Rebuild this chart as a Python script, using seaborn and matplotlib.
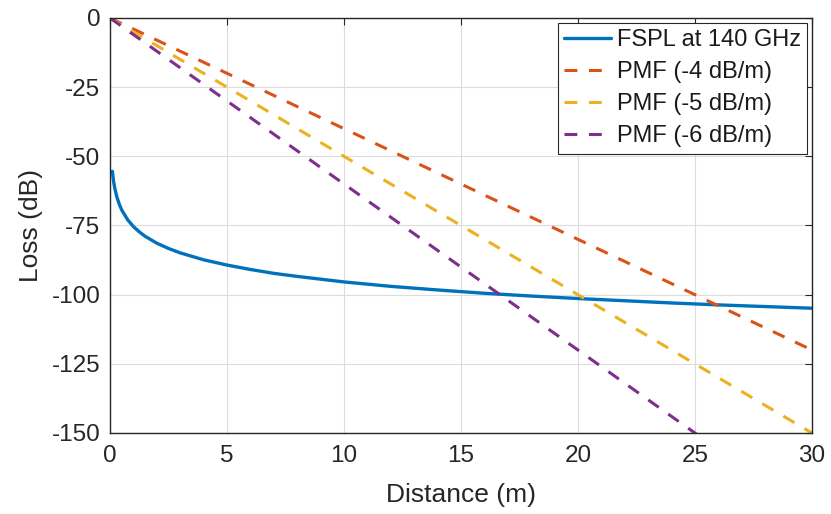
import matplotlib
matplotlib.use("Agg")
import matplotlib.pyplot as plt
import seaborn as sns

# FSPL at 140 GHz
fspl_distance = [0.1, 0.15, 0.2, 0.3, 0.4, 0.5, 0.75, 1, 1.25, 1.5, 2, 2.5, 3, 4, 5, 6, 7, 8,
                 10, 12, 14, 16, 18, 20, 22, 24, 26, 28, 30]
fspl_loss = [-55.4, -58.9, -61.4, -64.9, -67.4, -69.4, -72.9, -75.4, -77.3, -78.9, -81.4, -83.3,
             -84.9, -87.4, -89.3, -90.9, -92.3, -93.4, -95.4, -97.0, -98.3, -99.5, -100.5,
             -101.4, -102.2, -103.0, -103.7, -104.3, -104.9]

pmf_distance = [0, 30]
pmf4_loss = [0, -120]
pmf5_loss = [0, -150]
pmf6_loss = [0, -180]

labels = ["FSPL at 140 GHz", "PMF (-4 dB/m)", "PMF (-5 dB/m)", "PMF (-6 dB/m)"]
colors = ["#0072BD", "#D95319", "#EDB120", "#7E2F8E"]

xticks = [0, 5, 10, 15, 20, 25, 30]
yticks = [0, -25, -50, -75, -100, -125, -150]

sns.set_style("white")
plt.rcParams["font.family"] = ["Liberation Sans", "DejaVu Sans"]

fig = plt.figure(figsize=(8.31, 5.14), dpi=100)
ax = fig.add_axes([0.1324, 0.1576, 0.8446, 0.8074])

sns.lineplot(x=fspl_distance, y=fspl_loss, ax=ax, color=colors[0], linewidth=2.4,
             label=labels[0], sort=False)
for ys, lab, c in zip([pmf4_loss, pmf5_loss, pmf6_loss], labels[1:], colors[1:]):
    l = sns.lineplot(x=pmf_distance, y=ys, ax=ax, color=c, linewidth=2.2, label=lab, sort=False)
    l.lines[-1].set_dashes([4.2, 3.8])

ax.set_xlim(0, 30)
ax.set_ylim(-150, 0)
ax.set_xticks(xticks)
ax.set_yticks(yticks)
ax.set_xticklabels([str(t) for t in xticks])
ax.set_yticklabels([str(t) for t in yticks])
ax.grid(True, color="#dcdcdc", linewidth=0.8)
ax.set_axisbelow(True)
for s in ax.spines.values():
    s.set_color("#262626")
    s.set_linewidth(1.0)
    s.set_visible(True)
ax.tick_params(direction="in", length=5, width=0.8, colors="#262626", labelsize=17.5,
               top=True, right=True, labelcolor="#262626")
ax.tick_params(axis="x", pad=9)
ax.tick_params(axis="y", pad=7)
ax.set_xlabel("Distance (m)", fontsize=19, color="#262626", labelpad=11)
ax.set_ylabel("Loss (dB)", fontsize=19, color="#262626", labelpad=6)

leg = ax.legend(loc="upper right", fontsize=17, frameon=True, fancybox=False,
                edgecolor="#262626", framealpha=1, borderpad=0.28, labelspacing=0.42,
                handlelength=2.0, handletextpad=0.22, borderaxespad=0.2)
leg.get_frame().set_linewidth(0.8)
for t in leg.get_texts():
    t.set_color("#1a1a1a")

fig.savefig("out.png", dpi=100)
